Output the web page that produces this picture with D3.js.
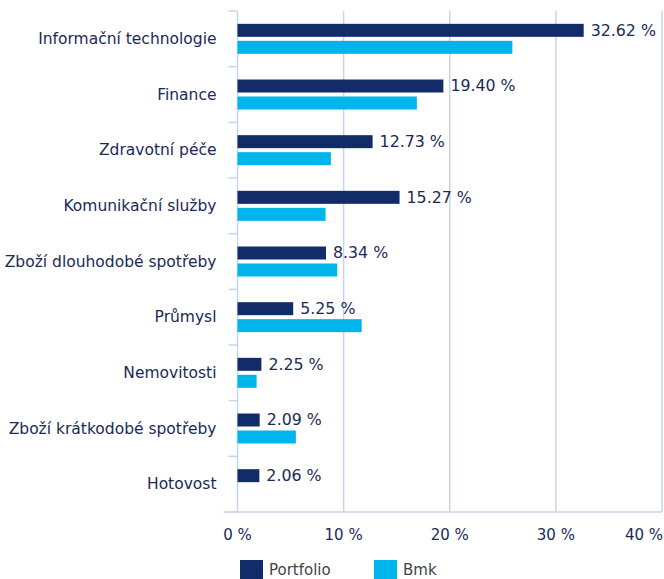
<!DOCTYPE html>
<html>
<head>
<meta charset="utf-8">
<script src="https://cdn.jsdelivr.net/npm/d3@7"></script>
<style>
  body { margin: 0; background: #fff; }
  svg { display: block; font-family: "DejaVu Sans", Verdana, sans-serif; }
</style>
</head>
<body>
<svg id="drawing_region"></svg>
<script>
const categories = ["Informační technologie", "Finance", "Zdravotní péče", "Komunikační služby",
    "Zboží dlouhodobé spotřeby", "Průmysl", "Nemovitosti", "Zboží krátkodobé spotřeby", "Hotovost"];
const portfolio = [32.62, 19.40, 12.73, 15.27, 8.34, 5.25, 2.25, 2.09, 2.06];
const bmk = [25.9, 16.9, 8.8, 8.3, 9.4, 11.7, 1.8, 5.5, null];
const tickValues = [0, 10, 20, 30, 40];
const seriesNames = ["Portfolio", "Bmk"];

const width = 664, height = 579;
const margin = { top: 11, right: 2, bottom: 67, left: 237.5 };
const colors = { Portfolio: "#122c69", Bmk: "#00b5eb" };
const textColor = "#1b2a57";
const gridColor = "#c9d5e6";

const svg = d3.select("#drawing_region")
    .attr("width", width)
    .attr("height", height);

const x = d3.scaleLinear()
    .domain([0, 40])
    .range([margin.left, width - margin.right]);

const y = d3.scaleBand()
    .domain(categories)
    .range([margin.top, height - margin.bottom])
    .padding(0);

const ySub = d3.scaleBand()
    .domain(seriesNames)
    .range([0, y.bandwidth()])
    .paddingInner(0.235)
    .paddingOuter(0.756);

// vertical grid lines
svg.append("g")
    .selectAll("line")
    .data(tickValues)
    .enter()
    .append("line")
    .attr("x1", d => x(d))
    .attr("x2", d => x(d))
    .attr("y1", margin.top)
    .attr("y2", height - margin.bottom)
    .attr("stroke", gridColor)
    .attr("stroke-width", 1.5);

// category separator stubs on the left axis
svg.append("g")
    .selectAll("line")
    .data(categories.concat([null]))
    .enter()
    .append("line")
    .attr("x1", margin.left - 9)
    .attr("x2", margin.left)
    .attr("y1", (d, i) => margin.top + i * y.step())
    .attr("y2", (d, i) => margin.top + i * y.step())
    .attr("stroke", gridColor)
    .attr("stroke-width", 1.5);

// bottom axis line
svg.append("line")
    .attr("x1", margin.left - 14)
    .attr("x2", width - margin.right)
    .attr("y1", height - margin.bottom)
    .attr("y2", height - margin.bottom)
    .attr("stroke", gridColor)
    .attr("stroke-width", 1.5);

// tick labels (last one kept inside the picture)
const lastTick = tickValues[tickValues.length - 1];
svg.append("g")
    .selectAll("text")
    .data(tickValues)
    .enter()
    .append("text")
    .attr("x", d => d === lastTick ? width - 1 : x(d))
    .attr("y", 535)
    .attr("text-anchor", d => d === lastTick ? "end" : "middle")
    .attr("dominant-baseline", "central")
    .style("font-size", "15px")
    .style("fill", textColor)
    .text(d => d + " %");

// category labels
svg.append("g")
    .selectAll("text")
    .data(categories)
    .enter()
    .append("text")
    .attr("x", margin.left - 21)
    .attr("y", d => y(d) + y.bandwidth() / 2)
    .attr("text-anchor", "end")
    .attr("dominant-baseline", "central")
    .style("font-size", "15.5px")
    .style("fill", textColor)
    .text(d => d);

// bars
const rows = categories.map((c, i) => ({ cat: c, Portfolio: portfolio[i], Bmk: bmk[i] }));

const groups = svg.append("g")
    .selectAll("g")
    .data(rows)
    .enter()
    .append("g")
    .attr("transform", d => `translate(0,${y(d.cat)})`);

groups.selectAll("rect")
    .data(d => seriesNames.filter(s => d[s] != null).map(s => ({ key: s, value: d[s] })))
    .enter()
    .append("rect")
    .attr("x", x(0))
    .attr("y", d => ySub(d.key))
    .attr("width", d => x(d.value) - x(0))
    .attr("height", ySub.bandwidth())
    .attr("fill", d => colors[d.key]);

// value labels on portfolio bars
groups.append("text")
    .attr("x", d => x(d.Portfolio) + 7)
    .attr("y", ySub("Portfolio") + ySub.bandwidth() / 2)
    .attr("dominant-baseline", "central")
    .style("font-size", "15.8px")
    .style("fill", textColor)
    .text(d => d.Portfolio.toFixed(2) + " %");

// legend
const legend = svg.append("g")
    .selectAll("g")
    .data(seriesNames)
    .enter()
    .append("g")
    .attr("transform", (d, i) => `translate(${240 + i * 134},560)`);

legend.append("rect")
    .attr("width", 23)
    .attr("height", 19)
    .attr("fill", d => colors[d]);

legend.append("text")
    .attr("x", 29)
    .attr("y", 10)
    .attr("dominant-baseline", "central")
    .style("font-size", "15px")
    .style("fill", "#444")
    .text(d => d);
</script>
</body>
</html>
